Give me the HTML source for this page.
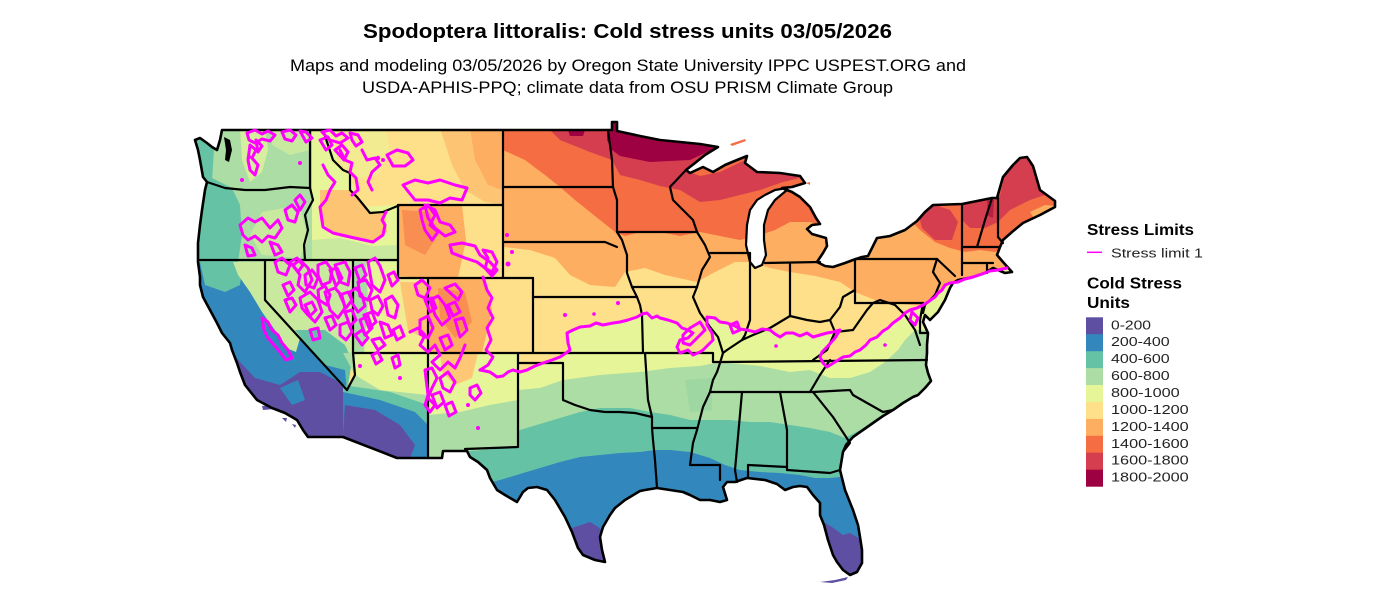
<!DOCTYPE html>
<html><head><meta charset="utf-8"><title>Spodoptera littoralis: Cold stress units</title>
<style>html,body{margin:0;padding:0;background:#fff}svg{display:block}</style></head>
<body>
<svg width="1400" height="594" viewBox="0 0 1400 594" xmlns="http://www.w3.org/2000/svg" font-family="'Liberation Sans', Arial, sans-serif">
<rect width="1400" height="594" fill="#fff"/>
<defs>
<clipPath id="us"><path d="M222,130 L612,130 L612,122 L617,122 L617,131 L640,136 L660,140 L680,142 L700,144 L718,147 L705,155 L695,163 L686,170 L690,173 L703,167 L713,172 L725,165 L737,160 L747,156 L745,163 L757,172 L780,173 L800,176 L805,183 L792,187 L782,188 L792,192 L800,197 L810,207 L816,218 L820,224 L812,225 L807,229 L812,234 L826,238 L827,246 L823,253 L817,262 L825,266 L833,267 L845,263 L853,260 L862,257 L868,256 L872,248 L877,238 L890,236 L905,230 L917,221 L925,212 L933,205 L962,204 L992,198 L997,198 L1003,177 L1013,165 L1020,158 L1027,157 L1033,166 L1040,190 L1055,201 L1055,207 L1040,215 L1023,223 L1012,232 L1003,240 L1000,247 L997,255 L1003,262 L1012,272 L1005,273 L993,268 L985,273 L973,277 L958,280 L953,283 L950,288 L945,300 L938,312 L930,320 L925,315 L923,322 L928,333 L927,345 L927,353 L926,365 L928,373 L931,381 L925,388 L918,395 L913,397 L903,403 L893,410 L883,416 L873,423 L863,430 L853,437 L846,445 L843,452 L840,470 L845,490 L853,510 L858,525 L860,537 L862,550 L862,563 L857,572 L850,575 L843,570 L837,562 L833,555 L828,540 L824,525 L820,515 L820,503 L813,495 L807,487 L800,486 L793,487 L785,490 L777,484 L765,480 L747,478 L735,482 L727,482 L723,487 L727,500 L720,502 L710,500 L700,500 L690,495 L683,492 L670,490 L657,488 L645,490 L640,491 L625,500 L615,508 L610,515 L603,527 L600,537 L602,550 L605,562 L595,560 L583,555 L578,548 L572,532 L565,517 L555,500 L547,490 L537,487 L528,488 L523,492 L517,502 L505,495 L497,490 L490,478 L487,470 L478,462 L470,457 L467,451 L443,451 L442,458 L430,458 L397,458 L343,437 L308,437 L303,430 L297,420 L285,413 L272,408 L257,400 L245,385 L240,372 L237,363 L232,350 L230,343 L222,333 L217,323 L210,310 L203,297 L200,285 L200,277 L198,262 L198,243 L200,225 L202,210 L205,190 L207,182 L203,177 L200,160 L198,150 L195,140 L200,138 L207,143 L212,147 L217,150 L220,140 Z"/></clipPath>
</defs>

<!-- ========== colour fill ========== -->
<g clip-path="url(#us)" stroke="none">
<rect x="150" y="100" width="950" height="500" fill="#FEE08B"/>
<!-- warm north -->
<path fill="#FDAE61" d="M503,120 L1070,120 L1070,290 L960,282 L945,298 L923,306 L880,302 L855,292 L840,282 L815,276 L790,272 L770,268 L752,262 L735,262 L715,272 L697,282 L665,275 L645,268 L625,272 L615,287 L590,285 L570,275 L555,258 L530,250 L503,247 Z"/>
<path fill="#F46D43" d="M503,120 L1070,120 L1070,215 L1045,222 L1025,235 L1010,245 L995,252 L980,250 L965,252 L950,248 L935,242 L920,230 L910,220 L880,215 L840,218 L822,226 L810,222 L790,222 L775,230 L760,235 L740,240 L720,236 L700,232 L680,236 L660,232 L640,232 L625,236 L615,232 L600,220 L575,200 L560,187 L545,175 L525,160 L503,150 Z"/>
<path fill="#D53E4F" d="M540,120 L722,120 L722,150 L700,160 L690,172 L700,176 L720,172 L745,160 L760,172 L782,172 L800,178 L783,182 L760,190 L740,195 L720,200 L700,202 L680,190 L660,186 L640,180 L620,175 L612,160 L590,152 L560,140 Z"/>
<path fill="#D53E4F" d="M962,200 L1000,195 L1005,175 L1020,155 L1035,160 L1045,195 L1030,200 L1010,210 L998,222 L985,228 L970,228 L962,220 Z"/>
<path fill="#D53E4F" d="M918,212 L935,205 L950,210 L958,222 L952,240 L935,240 L922,228 Z"/>
<path fill="#9E0142" d="M607,120 L722,145 L705,153 L690,160 L650,162 L620,156 L612,150 L607,140 Z"/>
<path fill="#9E0142" d="M568,130 L585,130 L583,136 L570,136 Z"/>
<path fill="#B8203F" d="M987,200 L994,200 L993,218 L988,216 Z"/>
<path fill="#FDAE61" d="M1030,212 L1045,205 L1056,206 L1050,214 L1035,220 Z"/>
<!-- cool south -->
<path fill="#E6F598" d="M460,377 L480,370 L503,377 L513,370 L527,370 L543,363 L560,357 L570,350 L567,333 L580,327 L613,323 L637,317 L647,313 L660,317 L677,323 L693,333 L680,345 L680,353 L703,350 L713,337 L707,317 L727,323 L747,330 L770,330 L780,337 L793,333 L813,337 L827,333 L840,330 L827,347 L820,357 L827,367 L843,357 L860,350 L877,337 L893,323 L910,310 L923,305 L935,297 L943,290 L950,283 L973,277 L990,271 L1010,268 L1070,268 L1070,600 L460,600 Z"/>
<path fill="#ABDDA4" d="M460,420 L480,405 L500,395 L518,390 L540,388 L563,380 L600,375 L640,372 L670,368 L700,366 L720,362 L760,366 L790,372 L810,370 L830,378 L850,378 L870,372 L885,362 L898,350 L905,340 L915,330 L1070,330 L1070,600 L460,600 Z"/>
<path fill="#66C2A5" d="M460,455 L480,445 L500,437 L520,430 L540,424 L560,418 L580,412 L600,408 L630,408 L650,412 L670,415 L690,420 L710,420 L730,420 L750,422 L770,422 L790,425 L810,428 L830,432 L845,438 L860,430 L875,420 L890,412 L905,405 L920,395 L1070,395 L1070,600 L460,600 Z"/>
<path fill="#9ED7A2" d="M685,380 L712,378 L712,410 L690,412 Z"/>
<path fill="#3288BD" d="M480,485 L500,480 L520,474 L540,468 L560,462 L580,457 L600,455 L620,453 L640,452 L655,450 L670,450 L690,452 L710,458 L725,465 L740,470 L760,472 L780,473 L800,475 L815,478 L830,478 L840,477 L850,470 L865,465 L1070,465 L1070,600 L480,600 Z"/>
<path fill="#5E4FA2" d="M572,528 L590,522 L600,528 L606,550 L606,565 L575,565 Z"/>
<path fill="#5E4FA2" d="M820,520 L832,527 L843,535 L850,533 L862,540 L865,580 L825,580 Z"/>
<!-- west -->
<path fill="#ABDDA4" d="M180,120 L312,120 L312,262 L353,262 L353,353 L347,392 L180,392 Z"/>
<path fill="#66C2A5" d="M180,120 L208,120 L214,150 L212,180 L180,180 Z"/>
<path fill="#66C2A5" d="M180,178 L212,178 L232,188 L240,205 L242,235 L238,262 L180,262 Z"/>
<path fill="#C9E99E" d="M262,212 L300,205 L308,240 L300,258 L262,255 L250,235 Z"/>
<path fill="#D6EE9E" d="M240,128 L265,128 L268,150 L262,172 L250,182 L242,160 Z"/>
<path fill="#C9E99E" d="M270,128 L310,128 L310,150 L290,155 L272,145 Z"/>
<!-- California / Nevada -->
<path fill="#3288BD" d="M180,262 L265,262 L265,300 L347,390 L345,440 L180,440 Z"/>
<path fill="#66C2A5" d="M200,262 L243,262 L240,285 L225,292 L205,285 Z"/>
<path fill="#C9E99E" d="M233,262 L265,262 L265,300 L300,338 L296,352 L286,348 L277,333 L262,312 L250,292 L238,275 Z"/>
<path fill="#5E4FA2" d="M225,345 L240,362 L255,378 L280,385 L300,372 L320,372 L345,385 L345,440 L300,440 L255,405 L235,385 Z"/>
<path fill="#3288BD" d="M280,388 L298,380 L305,400 L292,405 Z"/>
<path fill="#C9E99E" d="M265,260 L353,260 L353,353 L347,390 L265,300 Z"/>
<path fill="#66C2A5" d="M295,330 L325,330 L345,345 L352,360 L347,392 L320,362 Z"/>
<path fill="#3288BD" d="M325,365 L345,370 L347,392 Z"/>
<!-- Idaho / Montana / Wyoming -->
<path fill="#E6F598" d="M312,128 L334,128 L338,165 L350,172 L354,190 L362,207 L398,205 L398,262 L312,262 Z"/>
<path fill="#FDC474" d="M320,190 L350,190 L357,197 L370,213 L385,212 L387,232 L373,243 L335,235 L320,220 Z"/>
<path fill="#C9E99E" d="M312,240 L340,238 L372,246 L398,245 L398,262 L312,262 Z"/>
<path fill="#F2EB92" d="M334,128 L385,128 L390,150 L378,175 L356,178 L340,165 Z"/>
<path fill="#FDC474" d="M440,128 L503,128 L503,205 L485,202 L465,190 L452,165 Z"/>
<path fill="#FDAE61" d="M470,128 L503,128 L503,190 L488,185 L475,160 Z"/>
<path fill="#FDAE61" d="M398,205 L462,205 L466,240 L458,278 L398,278 Z"/>
<path fill="#F98E52" d="M402,210 L430,212 L438,235 L425,255 L405,245 Z"/>
<!-- Utah / Colorado -->
<path fill="#E6F598" d="M353,262 L398,262 L398,278 L428,278 L428,353 L353,353 Z"/>
<path fill="#F2EB92" d="M380,275 L428,278 L428,353 L385,353 Z"/>
<path fill="#FDC474" d="M400,282 L428,282 L428,340 L408,330 Z"/>
<path fill="#ABDDA4" d="M353,262 L366,262 L368,300 L364,353 L353,353 Z"/>
<path fill="#FDAE61" d="M428,278 L485,278 L492,310 L482,353 L428,353 Z"/>
<path fill="#F98E52" d="M438,288 L465,292 L472,322 L455,338 L440,318 Z"/>
<!-- Arizona / New Mexico -->
<path fill="#ABDDA4" d="M343,353 L428,353 L428,458 L397,458 L343,437 L347,392 L355,375 Z"/>
<path fill="#E6F598" d="M355,353 L428,353 L428,395 L380,390 L355,375 Z"/>
<path fill="#66C2A5" d="M343,385 L390,392 L428,405 L428,458 L397,458 L343,437 Z"/>
<path fill="#3288BD" d="M343,392 L380,400 L415,412 L428,425 L428,458 L397,458 L343,437 Z"/>
<path fill="#5E4FA2" d="M345,405 L375,410 L400,425 L415,445 L410,458 L397,458 L343,437 Z"/>
<path fill="#E6F598" d="M428,353 L518,353 L518,447 L467,451 L443,451 L442,458 L428,458 Z"/>
<path fill="#ABDDA4" d="M428,415 L460,412 L490,405 L518,400 L518,447 L467,451 L443,451 L442,458 L428,458 Z"/>
<path fill="#FEC776" d="M440,353 L478,353 L472,378 L455,385 L442,372 Z"/>
</g>

<!-- small islands -->
<g stroke="none">
<path fill="#5E4FA2" d="M262,406 L272,405 L274,409 L263,410 Z M282,418 L287,418 L286,422 Z M292,424 L296,425 L295,428 Z M820,582 L835,580 L848,577 L846,580 L832,583 Z"/>
<path fill="#F46D43" d="M730,144 L745,139 L746,141 L732,146 Z M806,183 L810,182 L810,185 Z"/>
<path fill="#000" d="M224,137 L230,140 L232,150 L229,162 L225,160 L226,150 Z"/>
</g>

<!-- Lake Michigan -->
<path d="M787,188 L775,190 L765,195 L757,200 L750,210 L747,225 L746,245 L750,262 L755,268 L762,265 L766,255 L764,240 L764,225 L768,210 L775,200 L787,190 Z" fill="#fff" stroke="#000" stroke-width="2.2" stroke-linejoin="round"/>

<!-- state borders -->
<g fill="none" stroke="#000" stroke-width="2.2" stroke-linejoin="round" stroke-linecap="round">
<path d="M207,182 L225,188 L245,190 L265,190 L290,187 L310,188"/>
<path d="M310,130 L310,188"/>
<path d="M310,188 L313,200 L305,215 L308,230 L304,245 L305,260"/>
<path d="M198,260 L398,260"/>
<path d="M265,260 L265,300 L347,390"/>
<path d="M323,130 L333,160 L343,170 L350,173 L350,190 L357,197 L370,213 L383,212 L400,205"/>
<path d="M398,205 L503,205"/>
<path d="M503,130 L503,278"/>
<path d="M398,205 L398,278 L533,278"/>
<path d="M353,260 L353,353"/>
<path d="M347,390 L355,375 L353,353 L643,353"/>
<path d="M428,278 L428,458"/>
<path d="M533,278 L533,353"/>
<path d="M533,297 L637,297"/>
<path d="M518,353 L518,447 L465,449"/>
<path d="M518,363 L563,363 L563,400 L575,405 L590,410 L605,412 L620,412 L635,413 L652,417"/>
<path d="M645,353 L648,400 L652,417 L652,428 L653,440 L655,460 L657,488"/>
<path d="M503,187 L613,187"/>
<path d="M503,242 L605,242 L617,247"/>
<path d="M608,130 L612,160 L613,187 L617,200 L617,232"/>
<path d="M617,232 L622,240 L627,255 L627,273 L632,287 L637,297 L640,305 L642,315 L643,353"/>
<path d="M617,232 L697,232"/>
<path d="M686,170 L670,187 L673,200 L693,220 L697,232 L705,245 L710,257 L702,270 L697,287"/>
<path d="M632,287 L697,287"/>
<path d="M710,253 L750,253"/>
<path d="M697,287 L693,297 L700,313 L710,327 L718,337 L723,353 L720,363 L717,372 L713,380 L710,392 L703,407 L697,430 L693,443 L690,465 L720,465 L720,480"/>
<path d="M645,353 L713,353 L713,362 L722,362 L927,360"/>
<path d="M653,428 L697,428"/>
<path d="M750,253 L750,320 L745,335 L742,340"/>
<path d="M723,353 L727,350 L742,340 L753,335 L770,328 L790,316 L807,320 L820,322 L830,320 L840,307 L843,297 L855,290"/>
<path d="M790,264 L790,316"/>
<path d="M765,263 L820,262"/>
<path d="M855,259 L855,303"/>
<path d="M830,320 L835,332 L827,350 L813,360"/>
<path d="M835,332 L853,330 L867,310 L873,303 L880,300 L895,305 L905,315 L915,330 L920,345"/>
<path d="M855,303 L923,303"/>
<path d="M855,259 L937,259"/>
<path d="M937,259 L933,272 L940,283 L935,295 L925,305 L923,313"/>
<path d="M937,259 L955,276"/>
<path d="M923,303 L920,320 L920,333 L928,333"/>
<path d="M962,204 L962,275"/>
<path d="M962,247 L1000,247"/>
<path d="M962,263 L993,263"/>
<path d="M987,263 L987,273"/>
<path d="M992,198 L985,220 L977,247"/>
<path d="M998,198 L998,237 L1003,243"/>
<path d="M710,392 L813,392"/>
<path d="M830,360 L820,375 L810,392"/>
<path d="M742,392 L735,470 L737,482"/>
<path d="M780,392 L787,430 L787,470"/>
<path d="M748,478 L748,465 L787,467"/>
<path d="M787,470 L830,473 L840,470"/>
<path d="M813,392 L833,417 L850,443 L843,452"/>
<path d="M813,392 L850,390 L853,395 L883,412 L893,410"/>
</g>

<!-- US outline -->
<path fill="none" stroke="#000" stroke-width="2.6" stroke-linejoin="round" d="M222,130 L612,130 L612,122 L617,122 L617,131 L640,136 L660,140 L680,142 L700,144 L718,147 L705,155 L695,163 L686,170 L690,173 L703,167 L713,172 L725,165 L737,160 L747,156 L745,163 L757,172 L780,173 L800,176 L805,183 L792,187 L782,188 L792,192 L800,197 L810,207 L816,218 L820,224 L812,225 L807,229 L812,234 L826,238 L827,246 L823,253 L817,262 L825,266 L833,267 L845,263 L853,260 L862,257 L868,256 L872,248 L877,238 L890,236 L905,230 L917,221 L925,212 L933,205 L962,204 L992,198 L997,198 L1003,177 L1013,165 L1020,158 L1027,157 L1033,166 L1040,190 L1055,201 L1055,207 L1040,215 L1023,223 L1012,232 L1003,240 L1000,247 L997,255 L1003,262 L1012,272 L1005,273 L993,268 L985,273 L973,277 L958,280 L953,283 L950,288 L945,300 L938,312 L930,320 L925,315 L923,322 L928,333 L927,345 L927,353 L926,365 L928,373 L931,381 L925,388 L918,395 L913,397 L903,403 L893,410 L883,416 L873,423 L863,430 L853,437 L846,445 L843,452 L840,470 L845,490 L853,510 L858,525 L860,537 L862,550 L862,563 L857,572 L850,575 L843,570 L837,562 L833,555 L828,540 L824,525 L820,515 L820,503 L813,495 L807,487 L800,486 L793,487 L785,490 L777,484 L765,480 L747,478 L735,482 L727,482 L723,487 L727,500 L720,502 L710,500 L700,500 L690,495 L683,492 L670,490 L657,488 L645,490 L640,491 L625,500 L615,508 L610,515 L603,527 L600,537 L602,550 L605,562 L595,560 L583,555 L578,548 L572,532 L565,517 L555,500 L547,490 L537,487 L528,488 L523,492 L517,502 L505,495 L497,490 L490,478 L487,470 L478,462 L470,457 L467,451 L443,451 L442,458 L430,458 L397,458 L343,437 L308,437 L303,430 L297,420 L285,413 L272,408 L257,400 L245,385 L240,372 L237,363 L232,350 L230,343 L222,333 L217,323 L210,310 L203,297 L200,285 L200,277 L198,262 L198,243 L200,225 L202,210 L205,190 L207,182 L203,177 L200,160 L198,150 L195,140 L200,138 L207,143 L212,147 L217,150 L220,140 Z"/>

<!-- stress limit contours -->
<g fill="none" stroke="#FF00FF" stroke-width="3" stroke-linejoin="round" stroke-linecap="round">
<path d="M480,370 L490,372 L497,377 L503,376 L508,372 L513,370 L520,372 L527,370 L535,366 L543,363 L552,360 L560,357 L566,353 L570,350 L568,343 L567,333 L573,330 L580,327 L590,326 L596,323 L603,325 L613,323 L620,322 L628,320 L637,317 L642,314 L647,313 L652,318 L657,316 L660,318 L668,320 L677,323 L682,328 L688,330 L693,333 L688,338 L680,340 L677,347 L680,353 L688,350 L693,355 L700,352 L703,350 L708,345 L713,340 L712,333 L707,325 L707,317 L715,318 L720,322 L727,323 L735,326 L740,329 L747,330 L755,332 L762,329 L770,330 L775,334 L780,337 L786,333 L793,333 L800,336 L807,333 L813,337 L820,335 L827,333 L833,332 L840,330 L835,338 L827,347 L822,352 L820,357 L823,363 L827,367 L835,362 L843,357 L850,356 L855,352 L860,350 L866,345 L870,340 L877,337 L883,331 L888,328 L893,323 L900,318 L905,313 L910,310 L917,308 L923,305 L928,302 L932,299 L935,297 L938,293 L942,290 L945,285 L950,283 L958,282 L965,279 L973,277 L982,274 L990,271 L998,270 L1007,268"/>
<path d="M690,328 L700,322 L705,330 L697,338 L690,345 L683,343 L683,335 Z"/>
<path d="M912,312 L918,318 L915,325 L910,320 Z"/>
<path d="M730,325 L737,322 L740,330 L733,333 Z"/>
<!-- Washington / north border -->
<path d="M247,133 L255,130 L262,134 L268,131 L275,135 L270,141 L262,139 L255,143 L249,140 Z"/>
<path d="M282,132 L290,130 L296,135 L292,141 L285,139 Z"/>
<path d="M300,131 L306,132 L312,138 L306,142 Z"/>
<path d="M322,132 L330,130 L336,136 L342,133 L348,138 L340,143 L330,140 Z"/>
<path d="M350,133 L358,135 L362,142 L356,146 L352,140 Z"/>
<path d="M256,140 L262,146 L258,152 Z"/>
<path d="M250,145 L256,150 L252,158 L258,165 L255,175 L250,170 L248,160 Z"/>
<!-- Idaho / Montana -->
<path d="M323,165 L328,175 L335,182 L330,190 L326,200 L320,207 L323,227 L333,233 L350,237 L373,242 L383,235 L385,225 L382,220 L386,212"/>
<path d="M340,150 L345,160 L352,163 L350,172 L356,178 L358,190 L352,195"/>
<path d="M335,150 L342,145 L348,152 L344,160 Z"/>
<path d="M320,140 L328,137 L332,145 L326,150 Z"/>
<path d="M362,150 L367,160 L375,158 L380,165 L372,172 L368,182 L372,190"/>
<path d="M387,155 L397,150 L408,153 L413,160 L405,166 L393,166 Z"/>
<path d="M403,185 L415,180 L428,183 L440,180 L455,185 L467,188 L462,200 L450,198 L440,203 L428,200 L415,200 Z"/>
<path d="M425,205 L435,210 L440,222 L450,225 L455,232 L445,236 L435,228 L428,218 Z"/>
<path d="M420,210 L428,205 L435,215 L430,225 L438,232 L432,240 L425,230 L422,220 Z"/>
<path d="M450,245 L462,243 L475,246 L480,255 L490,262 L497,270 L492,276 L485,268 L477,262 L465,258 L452,253 Z"/>
<path d="M483,250 L488,258 L485,268 L492,272 L497,262 L492,252 Z"/>
<!-- Oregon -->
<path d="M240,225 L248,218 L255,222 L262,218 L270,228 L278,220 L282,228 L275,238 L268,236 L262,242 L255,236 L248,240 L243,235 Z"/>
<path d="M285,210 L292,205 L298,212 L295,222 L288,220 Z"/>
<path d="M270,242 L278,245 L282,252 L275,255 Z"/>
<path d="M245,245 L252,248 L255,255 L248,256 Z"/>
<path d="M295,200 L300,195 L305,202 L300,210 Z"/>
<!-- Nevada / Utah -->
<path d="M275,262 L282,258 L290,265 L286,275 L278,272 Z"/>
<path d="M293,265 L300,260 L308,268 L312,280 L305,292 L298,285 L300,275 Z"/>
<path d="M300,298 L310,292 L318,300 L322,312 L315,322 L308,315 L302,308 Z"/>
<path d="M318,265 L326,262 L332,270 L330,282 L322,285 L318,275 Z"/>
<path d="M325,292 L335,288 L342,296 L345,308 L338,318 L330,310 Z"/>
<path d="M335,265 L345,262 L350,272 L348,285 L340,282 Z"/>
<path d="M350,292 L356,288 L362,295 L365,306 L358,312 L352,303 Z"/>
<path d="M285,300 L292,298 L296,305 L290,312 Z"/>
<path d="M310,330 L318,328 L320,338 L313,340 Z"/>
<path d="M340,325 L348,322 L352,332 L346,340 L340,335 Z"/>
<path d="M360,320 L368,316 L372,328 L365,335 Z"/>
<path d="M368,262 L375,258 L380,266 L385,280 L380,292 L372,285 Z"/>
<path d="M385,300 L392,296 L398,305 L395,318 L388,315 Z"/>
<path d="M372,340 L380,338 L385,345 L378,350 Z"/>
<path d="M380,322 L388,325 L392,335 L385,338 Z"/>
<path d="M290,262 L297,258 L303,265 L298,272 Z"/>
<path d="M305,275 L312,270 L318,278 L314,288 L306,285 Z"/>
<path d="M318,290 L325,286 L330,295 L327,305 L319,300 Z"/>
<path d="M330,270 L337,268 L342,278 L336,286 Z"/>
<path d="M340,295 L348,292 L352,300 L346,308 Z"/>
<path d="M355,268 L362,265 L366,275 L360,282 Z"/>
<path d="M358,282 L366,280 L372,290 L368,300 L360,296 Z"/>
<path d="M370,300 L378,296 L383,306 L378,315 L372,310 Z"/>
<path d="M364,315 L372,312 L376,322 L369,328 Z"/>
<path d="M345,312 L352,310 L356,320 L350,326 Z"/>
<path d="M325,318 L332,316 L336,325 L330,330 Z"/>
<path d="M388,275 L394,272 L398,280 L392,286 Z"/>
<path d="M393,330 L400,326 L404,336 L397,340 Z"/>
<path d="M283,285 L290,282 L294,290 L288,296 Z"/>
<path d="M305,305 L312,302 L316,310 L310,316 Z"/>
<path d="M262,318 L268,322 L272,330 L278,335 L282,343 L288,350 L292,358 L286,360 L280,352 L274,345 L268,338 L264,330 Z"/>
<!-- Colorado -->
<path d="M415,285 L422,280 L430,288 L425,298 L418,295 Z"/>
<path d="M430,300 L438,296 L445,305 L450,318 L442,325 L435,315 Z"/>
<path d="M420,320 L428,316 L433,328 L428,338 L420,334 Z"/>
<path d="M445,288 L455,284 L462,292 L458,300 Z"/>
<path d="M455,320 L463,318 L467,330 L460,337 Z"/>
<path d="M440,338 L448,335 L452,345 L445,350 Z"/>
<path d="M425,300 L432,298 L436,308 L430,312 Z"/>
<path d="M448,305 L455,302 L460,312 L453,316 Z"/>
<path d="M483,277 L487,290 L492,298 L488,308 L493,318 L487,328 L491,340 L486,350 L493,357 L488,365 L480,370"/>
<!-- Arizona / New Mexico -->
<path d="M355,335 L362,330 L368,338 L362,345 Z"/>
<path d="M372,355 L378,352 L382,360 L376,364 Z"/>
<path d="M392,358 L398,355 L400,365 L395,368 Z"/>
<path d="M410,332 L418,328 L425,335 L420,345 L428,352 L435,345 L440,355 L432,362 L440,370 L448,362 L455,368 L460,358 L465,345"/>
<path d="M425,370 L432,368 L437,378 L432,388 L428,398 L435,405 L430,412 L425,405 L428,395 Z"/>
<path d="M440,378 L448,372 L455,382 L450,392 L443,388 Z"/>
<path d="M470,388 L477,385 L481,393 L475,400 L470,395 Z"/>
<path d="M432,395 L440,392 L444,402 L437,408 Z"/>
<path d="M445,405 L452,402 L456,412 L449,416 Z"/>
</g>
<g fill="#FF00FF">
<circle cx="249" cy="157" r="2.2"/><circle cx="242" cy="180" r="2"/><circle cx="300" cy="163" r="2"/>
<circle cx="468" cy="405" r="2"/><circle cx="478" cy="428" r="2"/><circle cx="400" cy="378" r="2"/>
<circle cx="360" cy="366" r="2"/><circle cx="618" cy="303" r="2"/><circle cx="565" cy="315" r="2"/>
<circle cx="594" cy="314" r="1.8"/><circle cx="776" cy="346" r="1.8"/><circle cx="885" cy="345" r="1.8"/>
<circle cx="378" cy="158" r="2.2"/><circle cx="383" cy="160" r="2"/><circle cx="507" cy="235" r="2"/>
<circle cx="508" cy="264" r="2.5"/><circle cx="512" cy="252" r="2"/>
</g>

<!-- titles -->
<text x="627.5" y="38" text-anchor="middle" font-weight="bold" font-size="20" fill="#000" textLength="529" lengthAdjust="spacingAndGlyphs">Spodoptera littoralis: Cold stress units 03/05/2026</text>
<text x="628" y="71" text-anchor="middle" font-size="17" fill="#000" textLength="676" lengthAdjust="spacingAndGlyphs">Maps and modeling 03/05/2026 by Oregon State University IPPC USPEST.ORG and</text>
<text x="627.5" y="93" text-anchor="middle" font-size="17" fill="#000" textLength="531" lengthAdjust="spacingAndGlyphs">USDA-APHIS-PPQ; climate data from OSU PRISM Climate Group</text>

<!-- legend -->
<text x="1087" y="235" font-weight="bold" font-size="16" fill="#000" textLength="107" lengthAdjust="spacingAndGlyphs">Stress Limits</text>
<line x1="1087" y1="252.3" x2="1102" y2="252.3" stroke="#FF00FF" stroke-width="1.5"/>
<text x="1111" y="257.5" font-size="13" fill="#222" textLength="92" lengthAdjust="spacingAndGlyphs">Stress limit 1</text>
<text x="1087" y="288.5" font-weight="bold" font-size="16" fill="#000" textLength="95" lengthAdjust="spacingAndGlyphs">Cold Stress</text>
<text x="1087" y="308" font-weight="bold" font-size="16" fill="#000" textLength="43" lengthAdjust="spacingAndGlyphs">Units</text>
<g stroke="none">
<rect x="1086" y="317.3" width="17" height="17.3" fill="#5E4FA2"/>
<rect x="1086" y="334.2" width="17" height="17.3" fill="#3288BD"/>
<rect x="1086" y="351.2" width="17" height="17.3" fill="#66C2A5"/>
<rect x="1086" y="368.1" width="17" height="17.3" fill="#ABDDA4"/>
<rect x="1086" y="385.0" width="17" height="17.3" fill="#E6F598"/>
<rect x="1086" y="402.0" width="17" height="17.3" fill="#FEE08B"/>
<rect x="1086" y="418.9" width="17" height="17.3" fill="#FDAE61"/>
<rect x="1086" y="435.8" width="17" height="17.3" fill="#F46D43"/>
<rect x="1086" y="452.7" width="17" height="17.3" fill="#D53E4F"/>
<rect x="1086" y="469.7" width="17" height="17.0" fill="#9E0142"/>
</g>
<g font-size="13" fill="#222">
<text x="1111" y="329.3" textLength="40" lengthAdjust="spacingAndGlyphs">0-200</text>
<text x="1111" y="346.2" textLength="58.7" lengthAdjust="spacingAndGlyphs">200-400</text>
<text x="1111" y="363.2" textLength="58.7" lengthAdjust="spacingAndGlyphs">400-600</text>
<text x="1111" y="380.1" textLength="58.7" lengthAdjust="spacingAndGlyphs">600-800</text>
<text x="1111" y="397.0" textLength="68.7" lengthAdjust="spacingAndGlyphs">800-1000</text>
<text x="1111" y="414.0" textLength="77.7" lengthAdjust="spacingAndGlyphs">1000-1200</text>
<text x="1111" y="430.9" textLength="77.7" lengthAdjust="spacingAndGlyphs">1200-1400</text>
<text x="1111" y="447.8" textLength="77.7" lengthAdjust="spacingAndGlyphs">1400-1600</text>
<text x="1111" y="464.7" textLength="77.7" lengthAdjust="spacingAndGlyphs">1600-1800</text>
<text x="1111" y="481.7" textLength="77.7" lengthAdjust="spacingAndGlyphs">1800-2000</text>
</g>
</svg>
</body></html>
